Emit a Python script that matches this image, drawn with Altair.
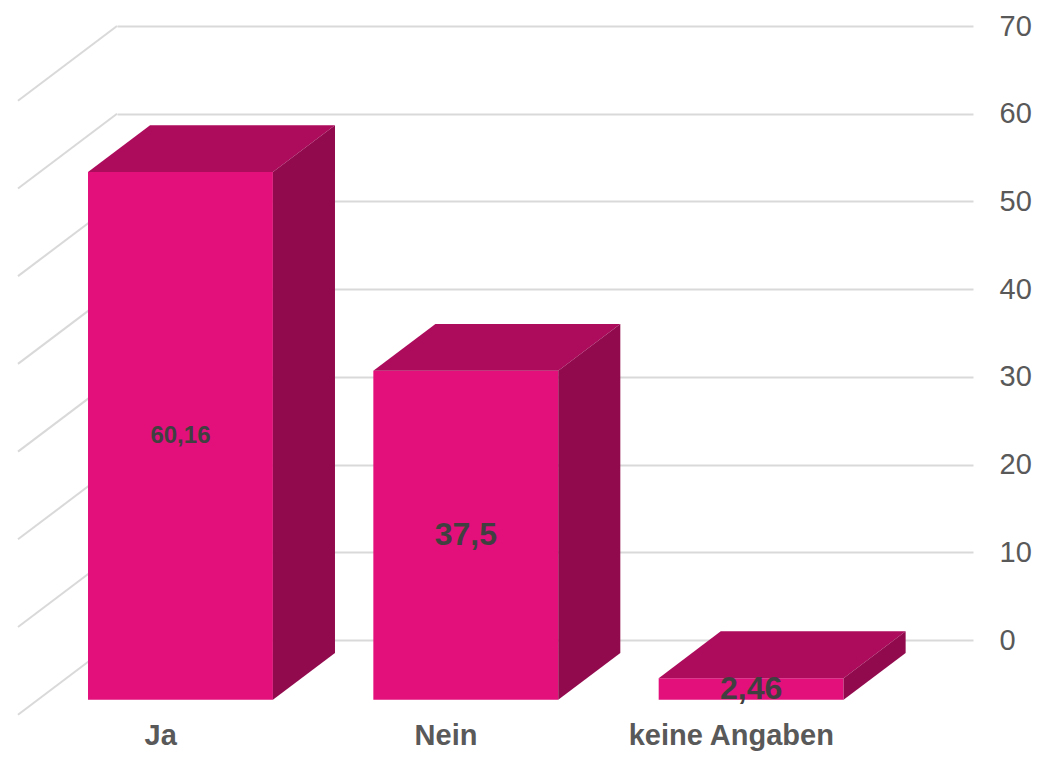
import altair as alt
import pandas as pd

# ---- data ----
categories = ["Ja", "Nein", "keine Angaben"]
values = [60.16, 37.5, 2.46]
y_ticks = [0, 10, 20, 30, 40, 50, 60, 70]

# ---- 3D projection style (depth offsets in data units) ----
DX, DY = -0.347, -8.52      # shift of the floor front relative to back wall
FRONT, BACK = 0.8, 0.173    # depth of bar front / bar back faces
HALF = 0.324                # half bar width (category slots)

COL_FRONT = "#E3107C"
COL_TOP = "#AD0B5C"
COL_SIDE = "#920A4E"
GRID = "#D9D9D9"
FONT = "Liberation Sans"

xs = alt.Scale(domain=[-0.5, 2.5], nice=False, zero=False)
ys = alt.Scale(domain=[0, 70], nice=False, zero=False)
yaxis = alt.Axis(orient="right", values=y_ticks, grid=True, gridColor=GRID,
                 gridWidth=2, domain=False, ticks=False, labelPadding=26,
                 labelFontSize=29, labelFont=FONT, labelColor="#595959", title=None)


def X(f="x"):
    return alt.X(f"{f}:Q", scale=xs, axis=None)


def Y(f="y"):
    return alt.Y(f"{f}:Q", scale=ys, axis=yaxis)


front_rows, vlab_rows, clab_rows = [], [], []
layers = []
wall_rows = [dict(x=-0.5, y=t, x2=-0.5 + DX, y2=t + DY) for t in y_ticks]
layers.append(
    alt.Chart(pd.DataFrame(wall_rows)).mark_rule(color=GRID, strokeWidth=2).encode(
        x=X(), x2="x2:Q", y=Y(), y2="y2:Q")
)

face_layers = []
for i, (c, v) in enumerate(zip(categories, values)):
    lf, rf = i - HALF + DX * FRONT, i + HALF + DX * FRONT
    lb, rb = i - HALF + DX * BACK, i + HALF + DX * BACK
    bf, bb = DY * FRONT, DY * BACK
    yf, yb = v + bf, v + bb
    front_rows.append(dict(cat=c, x=lf, x2=rf, y=bf, y2=yf))
    top_df = pd.DataFrame([
        dict(x=lf, y=yf, y2=yf),
        dict(x=lb, y=yf, y2=yb),
        dict(x=rf, y=yf, y2=yb),
        dict(x=rb, y=yb, y2=yb),
    ])
    side_df = pd.DataFrame([
        dict(x=rf, y=bf, y2=yf),
        dict(x=rb, y=bb, y2=yb),
    ])
    face_layers.append(
        alt.Chart(top_df).mark_area(color=COL_TOP, orient="vertical", opacity=1).encode(
            x=X(), y=Y(), y2="y2:Q")
    )
    face_layers.append(
        alt.Chart(side_df).mark_area(color=COL_SIDE, orient="vertical", opacity=1).encode(
            x=X(), y=Y(), y2="y2:Q")
    )
    vlab_rows.append(dict(cat=c, value=v, x=i + DX * FRONT, y=v / 2 + bf,
                          label=f"{v}".replace(".", ",")))
    clab_rows.append(dict(cat=c, x=i + DX, y=DY))

layers.append(
    alt.Chart(pd.DataFrame(front_rows)).mark_rect(color=COL_FRONT).encode(
        x=X(), x2="x2:Q", y=Y(), y2="y2:Q")
)
layers += face_layers

layers.append(
    alt.Chart(pd.DataFrame(vlab_rows)).mark_text(
        font=FONT, fontWeight="bold", color="#404040", baseline="middle", align="center"
    ).encode(
        x=X(), y=Y(), text="label:N",
        size=alt.condition(alt.datum.value > 50, alt.value(24), alt.value(32)),
    )
)

layers.append(
    alt.Chart(pd.DataFrame(clab_rows)).mark_text(
        font=FONT, fontWeight="bold", color="#595959", fontSize=29,
        baseline="alphabetic", align="center", dy=30
    ).encode(x=X(), y=Y(), text="cat:N")
)

chart = alt.layer(*layers).properties(
    width=856, height=614,
    padding={"left": 109, "top": 18, "right": 70, "bottom": 111},
    autosize=alt.AutoSizeParams(type="none"),
).configure_view(stroke=None)

chart.save("out.html", embed_options={"renderer": "svg", "actions": False})
